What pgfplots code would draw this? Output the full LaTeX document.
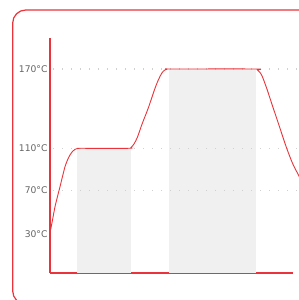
\documentclass[border=0pt]{standalone}
\usepackage{fontspec}
\setmainfont{DejaVu Sans}
\usepackage{pgfplots}
\pgfplotsset{compat=1.18}
\definecolor{cred}{RGB}{232,52,58}
\definecolor{cgray}{RGB}{240,240,240}
\definecolor{cgrid}{RGB}{208,208,208}
\definecolor{ctext}{RGB}{100,100,100}
\begin{document}
\begin{tikzpicture}[x=1pt,y=1pt]
\clip (0,0) rectangle (299,300);
\draw[cred, line width=1.2pt, rounded corners=13pt] (12.7,290) rectangle (312,-4);
\begin{axis}[
  x=1pt, y=1pt,
  xmin=50, xmax=293, ymin=0, ymax=235,
  anchor=south west, at={(50pt,27pt)},
  axis x line=bottom, axis y line=left,
  axis line style={-, draw=cred, line width=1.2pt},
  clip=false,
  xtick=\empty,
  ytick={38.7,82.5,124.7,204},
  yticklabels={30°C,70°C,110°C,170°C},
  major tick length=0pt,
  yticklabel style={font=\fontsize{9.2}{10}\selectfont, text=ctext, inner sep=0pt, xshift=-2.3pt},
]
% shaded phases
\addplot[draw=none, fill=cgray] coordinates {(77.3,0) (77.3,124.7) (130.7,124.7) (130.7,0)} -- cycle;
\addplot[draw=none, fill=cgray] coordinates {(169,0) (169,204) (256,204) (256,0)} -- cycle;
% dotted guide lines
\addplot[cgrid, line width=1.3pt, dash pattern=on 1.3pt off 7.7pt] coordinates {(53,204) (299,204)};
\addplot[cgrid, line width=1.3pt, dash pattern=on 1.3pt off 7.7pt] coordinates {(53,124.7) (299,124.7)};
\addplot[cgrid, line width=1.3pt, dash pattern=on 1.3pt off 7.7pt] coordinates {(53,82.5) (299,82.5)};
% temperature profile
\addplot[cred, line width=0.9pt, smooth, tension=0.5] coordinates {
 (50,40) (52.5,53) (55,66.3) (57.5,76.5) (60,86.3) (62.5,96.5) (65,106.3) (67.5,113) (70,118) (72.5,121.5) (75,123.7) (78,124.6) (81,124.7)
 (128,124.7) (131,125.6) (134,129) (137.5,136) (141.7,148) (145,156.5) (148.3,165) (151.7,175) (155,184.7) (158.3,193) (161.7,199.7) (164.5,202.8) (167.5,204) (171,204)
 (254.5,204) (257.5,203) (260,200.5) (262.5,196) (266.7,184.7) (270,174.7) (273.3,164.7) (276.7,154.7) (280,144.7) (283.3,134.7) (286.7,124.7) (290,116) (293.3,108) (299.5,96)
};
\end{axis}
\end{tikzpicture}
\end{document}
